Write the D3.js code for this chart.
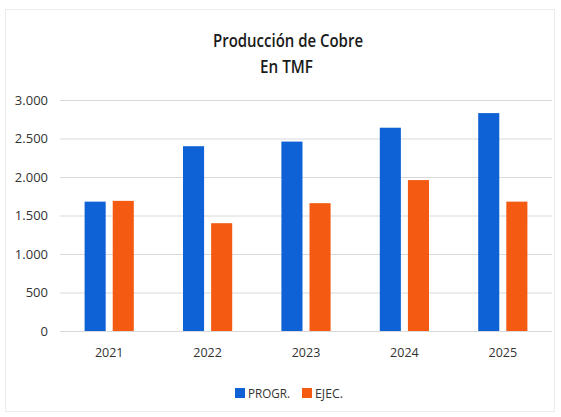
<!DOCTYPE html>
<html><head><meta charset="utf-8">
<script src="https://cdn.jsdelivr.net/npm/d3@7"></script>
<style>body{margin:0;background:#fff}svg{display:block}</style>
</head><body>
<svg id="c" width="561" height="417"></svg>
<script>
const years = ["2021","2022","2023","2024","2025"];
const series = ["PROGR.","EJEC."];
const progr = [1680, 2400, 2460, 2640, 2830];
const ejec = [1690, 1400, 1660, 1960, 1680];
const yTicks = [0,500,1000,1500,2000,2500,3000];
const colors = ["#0f62d6","#f45a12"];
const titleLines = ["Producción de Cobre","En TMF"];

const svg = d3.select("#c");
const font = "'Open Sans', sans-serif";
svg.append("rect").attr("x",5.5).attr("y",9.5).attr("width",549).attr("height",402)
  .attr("fill","#fff").attr("stroke","#ececec");

const x = d3.scaleBand().domain(years).range([60,552]).paddingInner(0.5).paddingOuter(0.25);
const xs = d3.scaleBand().domain(series).range([0,x.bandwidth()]).paddingInner(0.25);
const y = d3.scaleLinear().domain([0,3000]).range([331,100]);

const fmt = d => d3.format(",")(d).replace(/,/g,".");
const ya = svg.append("g").attr("transform","translate(60,0)")
  .call(d3.axisLeft(y).tickValues(yTicks).tickFormat(fmt).tickSize(-492).tickPadding(12));
ya.select(".domain").remove();
ya.selectAll(".tick line").attr("stroke","#d9d9d9");
ya.selectAll(".tick text").attr("font-family",font).attr("font-size",13).attr("fill","#333");

const xa = svg.append("g").attr("transform","translate(0,331)")
  .call(d3.axisBottom(x).tickSize(0).tickPadding(17));
xa.select(".domain").remove();
xa.selectAll(".tick text").attr("font-family",font).attr("font-size",12.5).attr("fill","#333");

const data = years.map((yr,i)=>({yr, vals:[progr[i],ejec[i]]}));
svg.append("g").selectAll("g").data(data).join("g")
  .attr("transform",d=>`translate(${x(d.yr)},0)`)
  .selectAll("rect").data(d=>d.vals.map((v,j)=>({s:series[j],v,j}))).join("rect")
  .attr("x",d=>xs(d.s)).attr("width",xs.bandwidth())
  .attr("y",d=>y(d.v)).attr("height",d=>y(0)-y(d.v))
  .attr("fill",d=>colors[d.j]);

svg.append("g").selectAll("text").data(titleLines).join("text")
  .attr("y",(d,i)=>47+i*26)
  .attr("font-family",font).attr("font-weight",600).attr("font-size",18).attr("fill","#1a1a1a")
  .attr("textLength",(d,i)=>i===0?150:53).attr("lengthAdjust","spacingAndGlyphs")
  .attr("x",(d,i)=>i===0?213:260)
  .text(d=>d);

const lg = svg.append("g");
const lx = [235, 302];
const lw = [42, 28];
series.forEach((s,i)=>{
  lg.append("rect").attr("x",lx[i]).attr("y",388).attr("width",10).attr("height",10).attr("fill",colors[i]);
  lg.append("text").attr("x",lx[i]+13).attr("y",398).attr("font-family",font).attr("font-size",13)
    .attr("textLength",lw[i]).attr("lengthAdjust","spacingAndGlyphs")
    .attr("fill","#333").text(s);
});
</script>
</body></html>
